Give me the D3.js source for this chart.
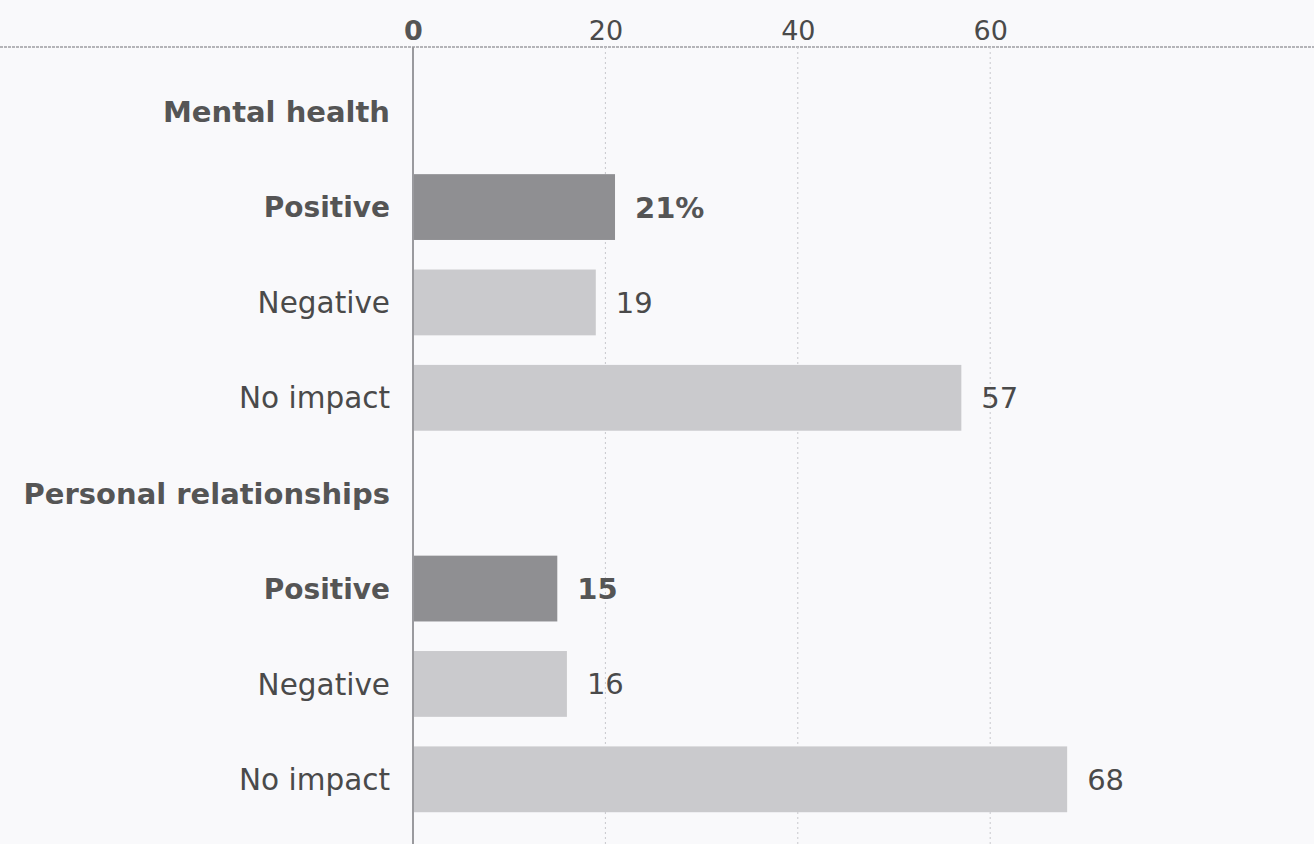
<!DOCTYPE html>
<html>
<head>
<meta charset="utf-8">
<script src="https://cdn.jsdelivr.net/npm/d3@7"></script>
<style>
  html, body { margin: 0; padding: 0; background: #f9f9fb; }
  svg { display: block; }
  text { font-family: "DejaVu Sans", sans-serif; fill: #4a4a4a; }
  .bold { font-weight: bold; fill: #555; }
</style>
</head>
<body>
<svg class="chart"></svg>
<script>
const groups = ["Mental health", "Personal relationships"];
const responses = ["Positive", "Negative", "No impact"];
const mentalValues = [21, 19, 57];
const relationshipValues = [15, 16, 68];
const ticks = [0, 20, 40, 60];

const W = 1314, H = 844;
const svg = d3.select(".chart").attr("width", W).attr("height", H);

// build row list: a header row then one row per response
const seriesByGroup = [mentalValues, relationshipValues];
const rows = [];
groups.forEach((g, gi) => {
  rows.push({ id: g, label: g, header: true });
  responses.forEach((r, ri) => {
    rows.push({ id: g + "|" + r, label: r, value: seriesByGroup[gi][ri], positive: r === "Positive", first: gi === 0 && ri === 0 });
  });
});

const x = d3.scaleLinear().domain([0, 90]).range([413, 413 + 90 * 9.62]);
const y = d3.scaleBand()
  .domain(rows.map(d => d.id))
  .range([64, 827])
  .paddingInner(0.31)
  .paddingOuter(0.155);

// top rule
svg.append("line")
  .attr("x1", 0).attr("x2", W)
  .attr("y1", 47).attr("y2", 47)
  .attr("stroke", "#b4b4b8").attr("stroke-width", 2)
  .attr("stroke-dasharray", "3,1");

// grid lines
svg.append("g").selectAll("line")
  .data(ticks.filter(t => t > 0))
  .join("line")
  .attr("x1", d => x(d)).attr("x2", d => x(d))
  .attr("y1", 47).attr("y2", H)
  .attr("stroke", "#c8c8cc").attr("stroke-width", 1)
  .attr("stroke-dasharray", "2,3");

// axis labels
const axis = svg.append("g")
  .attr("transform", "translate(0,40)")
  .call(d3.axisTop(x).tickValues(ticks).tickSize(0).tickFormat(d3.format("d")));
axis.select(".domain").remove();
axis.selectAll("text")
  .attr("y", 0)
  .style("font-size", "27px")
  .style("font-family", "'DejaVu Sans', sans-serif")
  .attr("fill", "#555")
  .attr("class", d => d === 0 ? "bold" : null);

// bars
const bars = rows.filter(d => !d.header);
svg.append("g").selectAll("rect")
  .data(bars)
  .join("rect")
  .attr("x", x(0))
  .attr("y", d => y(d.id))
  .attr("width", d => x(d.value) - x(0))
  .attr("height", y.bandwidth())
  .attr("fill", d => d.positive ? "#8f8f92" : "#cacacd");

// zero line
svg.append("line")
  .attr("x1", x(0)).attr("x2", x(0))
  .attr("y1", 47).attr("y2", H)
  .attr("stroke", "#9a9a9e").attr("stroke-width", 2);

// row labels
svg.append("g").selectAll("text")
  .data(rows)
  .join("text")
  .attr("x", 390)
  .attr("y", d => y(d.id) + y.bandwidth() / 2)
  .attr("dy", "0.36em")
  .attr("text-anchor", "end")
  .attr("class", d => d.header || d.positive ? "bold" : null)
  .style("font-size", d => d.header ? "29px" : d.positive ? "28px" : "29.5px")
  .text(d => d.label);

// value labels
svg.append("g").selectAll("text")
  .data(bars)
  .join("text")
  .attr("x", d => x(d.value) + 20)
  .attr("y", d => y(d.id) + y.bandwidth() / 2)
  .attr("dy", "0.36em")
  .attr("class", d => d.positive ? "bold" : null)
  .style("font-size", "29px")
  .text(d => d.value + (d.first ? "%" : ""));
</script>
</body>
</html>
